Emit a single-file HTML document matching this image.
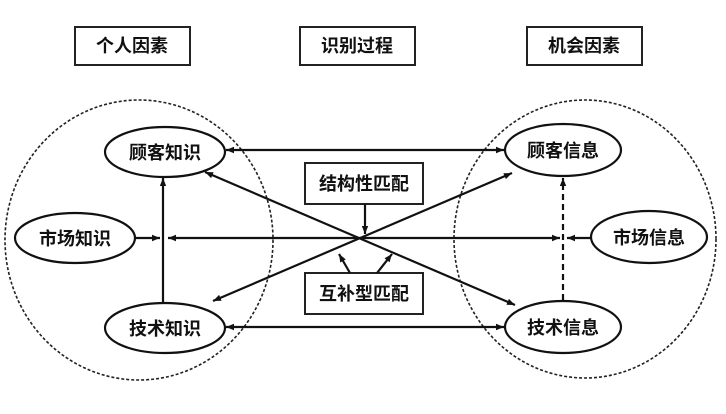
<!DOCTYPE html>
<html><head><meta charset="utf-8"><style>
body{margin:0;background:#fff;}
svg text{font-family:"Liberation Sans","Noto Sans CJK SC",sans-serif;font-size:18px;font-weight:bold;fill:#111;text-anchor:middle;dominant-baseline:central;}
</style></head><body>
<svg width="726" height="409" viewBox="0 0 726 409" xmlns="http://www.w3.org/2000/svg">
<defs>
<marker id="a" viewBox="0 0 10 10" refX="10" refY="5" markerWidth="11" markerHeight="8" orient="auto-start-reverse" markerUnits="userSpaceOnUse"><path d="M0,1 L10,5 L0,9 z" fill="#111"/></marker>
</defs>
<g fill="none" stroke="#222" stroke-width="1.6">
<ellipse cx="139" cy="240" rx="134" ry="140" stroke-dasharray="3,2"/>
<ellipse cx="585" cy="239" rx="131" ry="139" stroke-dasharray="3,2"/>
<rect x="75" y="27" width="115" height="38" stroke-width="2"/>
<rect x="300" y="27" width="115" height="38" stroke-width="2"/>
<rect x="527" y="27" width="115" height="38" stroke-width="2"/>
<rect x="305" y="163" width="118" height="41" stroke-width="2"/>
<rect x="305" y="273" width="118" height="41" stroke-width="2"/>
</g>
<g fill="#fff" stroke="#111" stroke-width="2.2">
<ellipse cx="165" cy="152" rx="60" ry="25"/>
<ellipse cx="75" cy="238" rx="60" ry="25"/>
<ellipse cx="165" cy="328" rx="60" ry="25"/>
<ellipse cx="563" cy="150" rx="58" ry="26"/>
<ellipse cx="649" cy="237" rx="58" ry="26"/>
<ellipse cx="563" cy="327" rx="58" ry="26"/>
</g>
<g stroke="#111" stroke-width="2.2" fill="none">
<line x1="226" y1="150" x2="504" y2="150" marker-start="url(#a)" marker-end="url(#a)"/>
<line x1="226" y1="327" x2="504" y2="327" marker-start="url(#a)" marker-end="url(#a)"/>
<line x1="205" y1="172" x2="515" y2="305" marker-start="url(#a)" marker-end="url(#a)"/>
<line x1="213" y1="301" x2="512" y2="173" marker-start="url(#a)" marker-end="url(#a)"/>
<line x1="365" y1="238" x2="168" y2="238" marker-end="url(#a)"/>
<line x1="365" y1="238" x2="560" y2="238" marker-end="url(#a)"/>
<line x1="136" y1="238" x2="160" y2="238" marker-end="url(#a)"/>
<line x1="591" y1="238" x2="567" y2="238" marker-end="url(#a)"/>
<line x1="163" y1="302" x2="163" y2="178" marker-end="url(#a)"/>
<line x1="563" y1="300" x2="563" y2="178" stroke-dasharray="6,4" marker-end="url(#a)"/>
<line x1="365" y1="204" x2="365" y2="234" marker-end="url(#a)"/>
<line x1="350" y1="273" x2="339" y2="254" marker-end="url(#a)"/>
<line x1="377" y1="273" x2="392" y2="254" marker-end="url(#a)"/>
</g>
<text x="132" y="46">个人因素</text>
<text x="357" y="46">识别过程</text>
<text x="584" y="46">机会因素</text>
<text x="364" y="184">结构性匹配</text>
<text x="364" y="294">互补型匹配</text>
<text x="165" y="153">顾客知识</text>
<text x="75" y="239">市场知识</text>
<text x="165" y="329">技术知识</text>
<text x="563" y="151">顾客信息</text>
<text x="649" y="238">市场信息</text>
<text x="563" y="328">技术信息</text>
</svg>
</body></html>
